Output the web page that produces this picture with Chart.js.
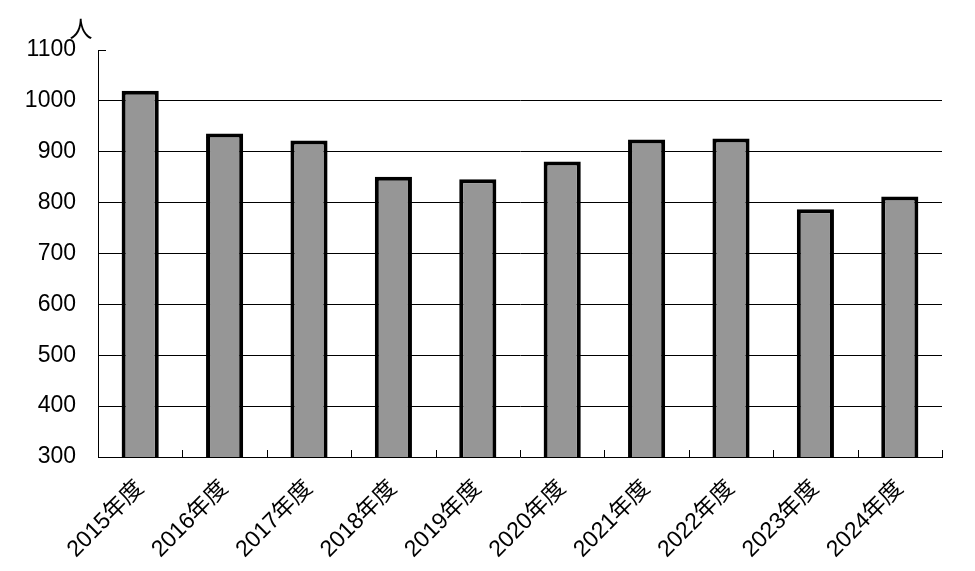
<!DOCTYPE html>
<html>
<head>
<meta charset="utf-8">
<script src="https://cdn.jsdelivr.net/npm/chart.js@4"></script>
<style>
  body { margin: 0; background: #fff; }
  #wrap { width: 975px; height: 571px; }
</style>
</head>
<body>
<div id="wrap"><canvas id="chart"></canvas></div>
<script>
// 年度別の人数
const categories = ['2015年度', '2016年度', '2017年度', '2018年度', '2019年度',
                    '2020年度', '2021年度', '2022年度', '2023年度', '2024年度'];
const values = [1020, 936, 922, 851, 846, 881, 924, 926, 787, 812];
const yMin = 300;
const yMax = 1100;
const yStep = 100;
const unitLabel = '人';

const fontFamily = "'Liberation Sans', Arial, 'Noto Sans CJK JP', sans-serif";

// Excel風の内向き目盛りと単位ラベル
const extras = {
  id: 'extras',
  afterDatasetsDraw(chart) {
    const ctx = chart.ctx;
    const x = chart.scales.x;
    const y = chart.scales.y;
    ctx.save();
    ctx.strokeStyle = '#000';
    ctx.lineWidth = 1;
    ctx.beginPath();
    const n = categories.length;
    for (let i = 1; i <= n; i++) {
      const px = Math.round(x.left + i * x.width / n) + 0.5;
      ctx.moveTo(px, x.top);
      ctx.lineTo(px, x.top - 7);
    }
    const py = Math.round(y.getPixelForValue(yMax)) + 0.5;
    ctx.moveTo(y.right, py);
    ctx.lineTo(y.right + 8, py);
    ctx.stroke();

    ctx.fillStyle = '#000';
    ctx.font = '23px ' + fontFamily;
    ctx.textAlign = 'center';
    ctx.textBaseline = 'middle';
    ctx.fillText(unitLabel, y.right - 17, y.top - 19);
    ctx.restore();
  }
};

new Chart(document.getElementById('chart'), {
  type: 'bar',
  data: {
    labels: categories,
    datasets: [{
      data: values,
      backgroundColor: '#969696',
      borderColor: '#000',
      borderWidth: 4,
      borderSkipped: false,
      categoryPercentage: 1,
      barPercentage: 0.44
    }]
  },
  options: {
    responsive: true,
    maintainAspectRatio: false,
    animation: false,
    layout: { padding: { top: 50, right: 33, left: 0, bottom: 0 } },
    plugins: { legend: { display: false }, tooltip: { enabled: false } },
    scales: {
      x: {
        grid: { display: false, drawTicks: false },
        border: { display: true, color: '#000', width: 1 },
        ticks: {
          color: '#000',
          font: { size: 23, family: fontFamily },
          minRotation: 45,
          maxRotation: 45,
          autoSkip: false,
          padding: 18
        },
        afterFit(scale) { scale.height = 114; }
      },
      y: {
        min: yMin,
        max: yMax,
        grid: {
          drawTicks: false,
          color: (c) => (c.tick && c.tick.value > yMin && c.tick.value < yMax) ? '#000' : 'rgba(0,0,0,0)',
          lineWidth: 1
        },
        border: { display: true, color: '#000', width: 1 },
        ticks: {
          stepSize: yStep,
          color: '#000',
          font: { size: 23, family: fontFamily },
          padding: 22,
          callback: (v) => String(v)
        },
        afterFit(scale) { scale.width = 98; }
      }
    }
  },
  plugins: [extras]
});
</script>
</body>
</html>
